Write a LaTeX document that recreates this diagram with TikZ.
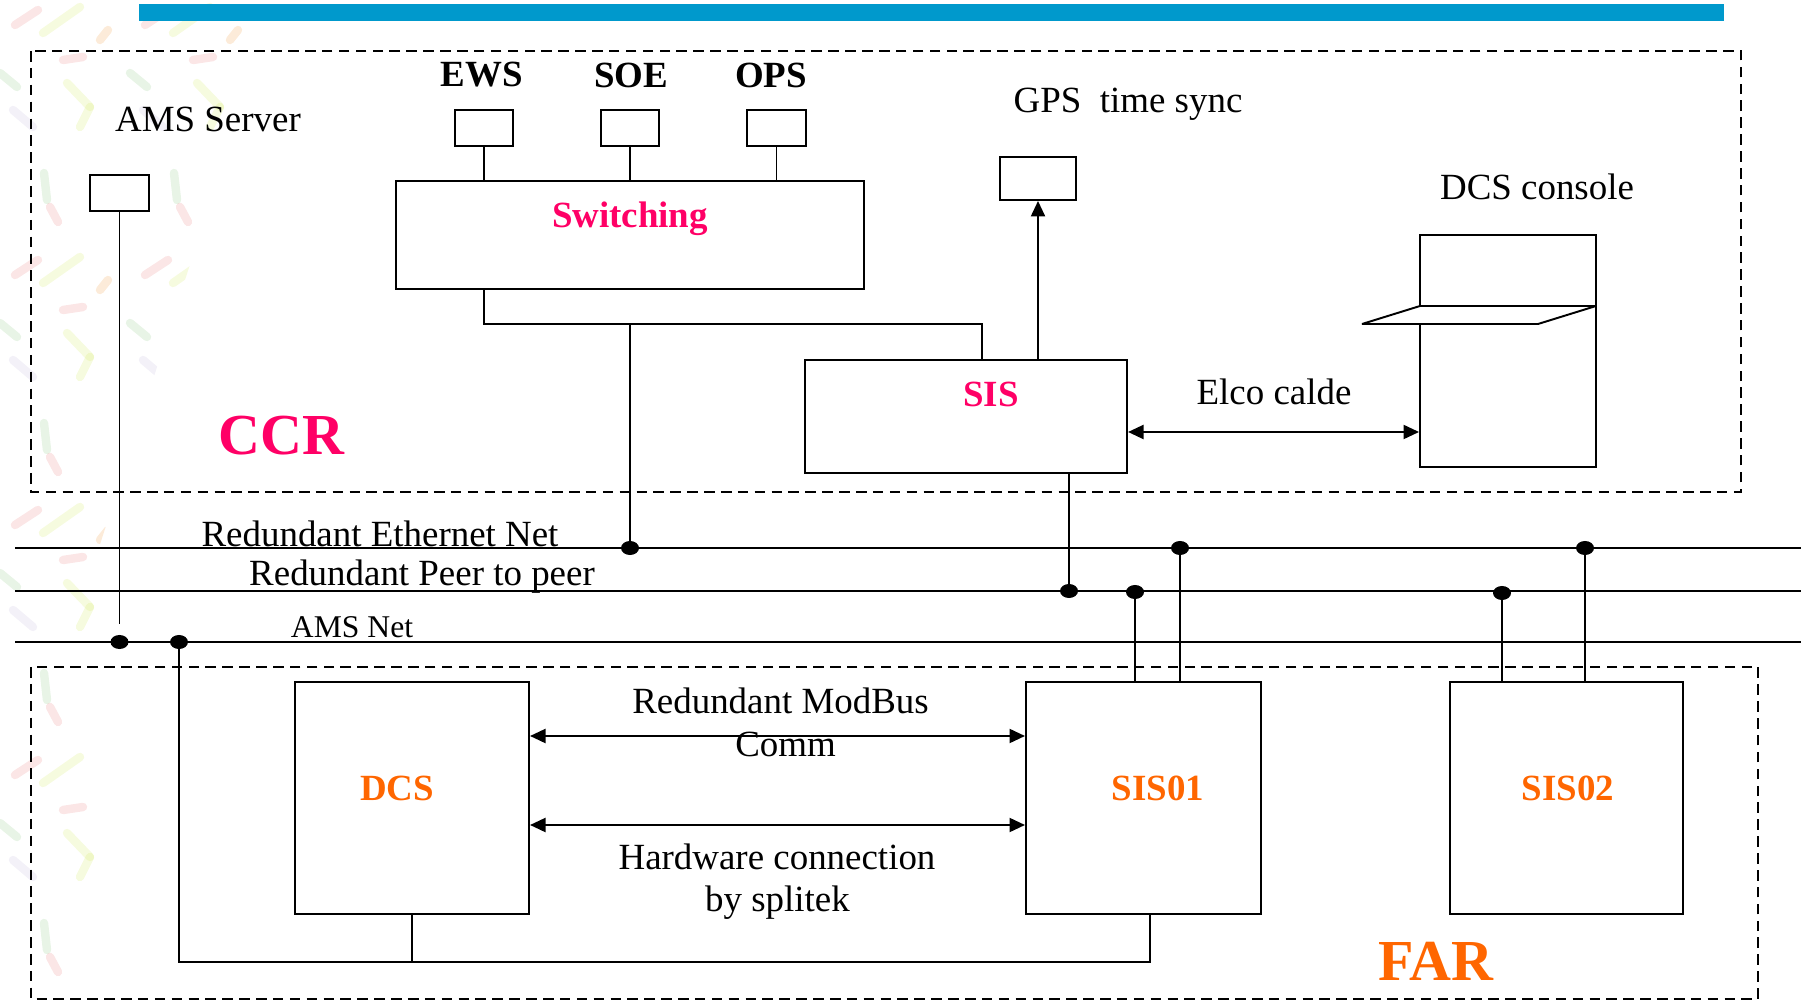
\documentclass[tikz,border=0pt]{standalone}
\usepackage{fontspec}
\setmainfont{Liberation Serif}
\usetikzlibrary{arrows.meta}
\definecolor{rose}{RGB}{255,0,102}
\definecolor{fire}{RGB}{255,102,0}
\definecolor{bar}{RGB}{0,153,204}
\definecolor{leafP}{RGB}{236,140,140}
\definecolor{leafG}{RGB}{150,205,140}
\definecolor{leafY}{RGB}{215,235,110}
\definecolor{leafL}{RGB}{200,190,225}
\definecolor{leafO}{RGB}{240,165,80}
\newcommand{\busline}{\draw[line width=0.8pt]}
\newcommand{\tap}[1]{\fill (#1) ellipse (0.09cm and 0.07cm);}
\newcommand{\leaf}[3]{\draw[leaf, #1] (#2) -- (#3);}
\tikzset{
  box/.style={draw, line width=0.55pt, inner sep=0pt},
  wire/.style={line width=0.55pt},
  zone/.style={draw, line width=0.6pt, dash pattern=on 3pt off 1.8pt},
  tip/.style={-{Triangle[length=4.4pt,width=4pt]}},
  biarrow/.style={wire, {Triangle[length=4.4pt,width=4pt]}-{Triangle[length=4.4pt,width=4pt]}},
  leaf/.style={line width=2.4pt, line cap=round, opacity=0.22},
  txt/.style={inner sep=0pt, anchor=base, font=\fontsize{10.5}{12}\selectfont},
  hd/.style={txt, font=\fontsize{10.5}{12}\selectfont\bfseries},
  big/.style={txt, font=\fontsize{16.5}{18}\selectfont\bfseries},
}
\begin{document}
\begin{tikzpicture}[x=0.01cm, y=-0.01cm]
\useasboundingbox (0,0) rectangle (1801,1001);
% background leaves
\begin{scope}
\clip (0,0) -- (275,0) -- (95,560) -- (95,1001) -- (0,1001) -- cycle;
\foreach \dx in {0,130}{
  \foreach \dy in {-250,0,250,500,750}{
    \begin{scope}[shift={(\dx,\dy)}]
      \leaf{leafP}{15,25}{38,10}
      \leaf{leafY}{43,33}{80,7}
      \leaf{leafG}{0,73}{17,87}
      \leaf{leafP}{63,60}{83,57}
      \leaf{leafY}{67,83}{90,107}
      \leaf{leafY}{90,107}{80,127}
      \leaf{leafL}{13,110}{33,127}
      \leaf{leafG}{44,173}{47,200}
      \leaf{leafP}{50,207}{58,222}
      \leaf{leafO}{100,40}{108,30}
    \end{scope}
  }
}
\end{scope}
\fill[bar] (139,4) rectangle (1724,21);
\draw[zone] (31,51) rectangle (1741,492);
\draw[zone] (31,667) rectangle (1758,999);
% networks
\foreach \b/\y in {eth/548,p2p/591,amsnet/642}{
  \coordinate (\b L) at (15,\y);
  \coordinate (\b R) at (1801,\y);
  \busline (\b L) -- (\b R);
}
\coordinate (t1) at (119.5,642);
\coordinate (t2) at (179,642);
\coordinate (t3) at (630,548);
\coordinate (t4) at (1069,591);
\coordinate (t5) at (1135,592);
\coordinate (t6) at (1180,548);
\coordinate (t7) at (1502,593);
\coordinate (t8) at (1585,548);
% CCR
\node[box, minimum width=.59cm, minimum height=.36cm] (ams) at (119.5,193) {};
\node[box, minimum width=.58cm, minimum height=.36cm] (ews) at (484,128) {};
\node[box, minimum width=.58cm, minimum height=.36cm] (soe) at (630,128) {};
\node[box, minimum width=.59cm, minimum height=.36cm] (ops) at (776.5,128) {};
\node[box, minimum width=4.68cm, minimum height=1.08cm] (switch) at (630,235) {};
\node[box, minimum width=.76cm, minimum height=.43cm] (gps) at (1038,178.5) {};
\node[box, minimum width=3.22cm, minimum height=1.13cm] (sis) at (966,416.5) {};
\node[box, minimum width=1.76cm, minimum height=2.32cm] (console) at (1508,351) {};
\filldraw[wire, fill=white, line join=bevel] (1420,306) -- (1596,306) -- (1538,324) -- (1362,324) -- cycle;
% FAR
\node[box, minimum width=2.34cm, minimum height=2.32cm] (dcs) at (412,798) {};
\node[box, minimum width=2.35cm, minimum height=2.32cm] (sisA) at (1143.5,798) {};
\node[box, minimum width=2.33cm, minimum height=2.32cm] (sisB) at (1566.5,798) {};
% links
\foreach \n in {ews,soe,ops}
  \draw[wire] (\n.south) -- (\n.south |- switch.north);
\coordinate (swjoin) at (982,324);
\draw[wire] (switch.south -| ews) |- (swjoin) -- (swjoin |- sis.north);
\draw[wire] (t3 |- swjoin) -- (t3);
\draw[wire, tip] (gps.south |- sis.north) -- (gps.south);
\coordinate (elco) at (1200,432);
\draw[biarrow] (sis.east |- elco) -- (console.west |- elco);
\coordinate (amsend) at (119.5,624);
\draw[wire] (ams.south) -- (amsend);
\draw[wire] (t4 |- sis.south) -- (t4);
\foreach \t/\n in {t5/sisA,t6/sisA,t7/sisB,t8/sisB}
  \draw[wire] (\t) -- (\t |- \n.north);
\coordinate (mb) at (700,736);
\coordinate (hw) at (700,825);
\draw[biarrow] (dcs.east |- mb) -- (sisA.west |- mb);
\draw[biarrow] (dcs.east |- hw) -- (sisA.west |- hw);
\coordinate (loop) at (1150,962);
\draw[wire] (t2) |- (loop) -- (loop |- sisA.south);
\draw[wire] (dcs.south) -- (dcs.south |- loop);
\foreach \i in {1,...,8}{\tap{t\i}}
% labels
\node[txt] (amslbl) at (208,132) {AMS Server};
\node[hd] (ewslbl) at (482,87) {EWS};
\node[hd] (soelbl) at (631,88) {SOE};
\node[hd] (opslbl) at (771,88) {OPS};
\node[hd, text=rose] (swlbl) at (630,228) {Switching};
\node[txt] (gpslbl) at (1128,113) {GPS\ \ time sync};
\node[txt] (conslbl) at (1537,200) {DCS console};
\node[txt] (elcolbl) at (1274,405) {Elco calde};
\node[hd, text=rose] (sislbl) at (991,407) {SIS};
\node[big, text=rose] (ccr) at (281.5,455) {CCR};
\node[txt] (ethlbl) at (380,547) {Redundant Ethernet Net};
\node[txt] (p2plbl) at (422,586) {Redundant Peer to peer};
\node[txt, font=\fontsize{9}{11}\selectfont] (amsnetlbl) at (352,637) {AMS Net};
\node[txt] (mblbl) at (780.5,713) {Redundant ModBus};
\node[txt] (mblbl2) at (785.5,756) {Comm};
\node[txt] (hwlbl) at (777,869) {Hardware connection};
\node[txt] (hwlbl2) at (777.5,911) {by splitek};
\node[hd, text=fire] (dcslbl) at (397,800) {DCS};
\node[hd, text=fire] (sisAlbl) at (1158,800) {SIS01};
\node[hd, text=fire] (sisBlbl) at (1568,800) {SIS02};
\node[big, text=fire] (far) at (1436,980) {FAR};
\end{tikzpicture}
\end{document}
